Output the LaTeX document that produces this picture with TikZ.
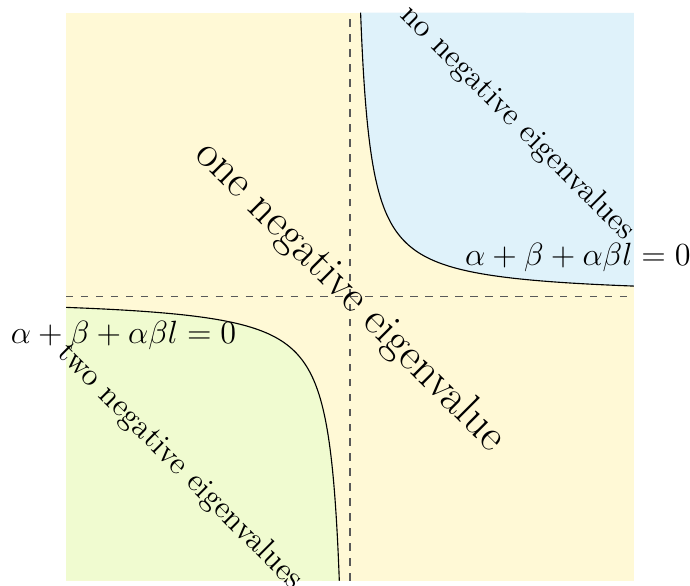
\documentclass[tikz,border=0pt]{standalone}
\definecolor{regYellow}{HTML}{FFF9D6}
\definecolor{regBlue}{HTML}{DFF2FA}
\definecolor{regGreen}{HTML}{F0FBD0}
\usepackage{tikz}
\usetikzlibrary{calc}
\usepackage{amsmath}
\usepackage{xcolor}

\begin{document}
\begin{tikzpicture}[
  asym/.style={dashed, draw=black!65, line width=0.5pt},
  branch/.style={draw=black, line width=0.45pt},
  eig/.style={rotate=-45, inner sep=0pt, font=\fontsize{12.8}{15}\selectfont},
  curvelabel/.style={inner sep=0pt, font=\fontsize{12}{14}\selectfont,
    transform shape, scale=1.075}]

  \useasboundingbox (-4.93,-4.07) rectangle (4.79,4.18);
  \pgfmathsetmacro{\hypr}{sqrt(0.6)}

  % regions
  \fill[regYellow] (-4,-4) rectangle (4,4);
  \fill[regBlue] plot[smooth, domain=-1.642:1.642, samples=60, variable=\t]
    ({\hypr*exp(\t)}, {\hypr*exp(-\t)}) -- (4,4) -- cycle;
  \fill[regGreen] plot[smooth, domain=-1.642:1.642, samples=60, variable=\t]
    ({-\hypr*exp(\t)}, {-\hypr*exp(-\t)}) -- (-4,-4) -- cycle;

  % asymptotes
  \coordinate (west) at (-4,0);
  \coordinate (east) at (4,0);
  \coordinate (south) at (0,-4);
  \coordinate (north) at (0,4);
  \draw[asym] (west) -- (east);
  \draw[asym] (south) -- (north);

  % the two branches of the curve
  \draw[branch] plot[smooth, domain=-1.642:1.642, samples=60, variable=\t]
    ({\hypr*exp(\t)}, {\hypr*exp(-\t)});
  \draw[branch] plot[smooth, domain=-1.642:1.642, samples=60, variable=\t]
    ({-\hypr*exp(\t)}, {-\hypr*exp(-\t)});

  \node[eig] (noneg) at (2.36,2.44) {no negative eigenvalues};
  \node[eig, font=\fontsize{18}{21}\selectfont] (oneneg) at (0,0) {one negative eigenvalue};
  \node[eig] (twoneg) at (-2.4,-2.4) {two negative eigenvalues};
  \node[curvelabel] (lblup) at (3.21,0.56) {$\alpha+\beta+\alpha\beta l=0$};
  \node[curvelabel] (lbldown) at (-3.19,-0.54) {$\alpha+\beta+\alpha\beta l=0$};
\end{tikzpicture}
\end{document}
